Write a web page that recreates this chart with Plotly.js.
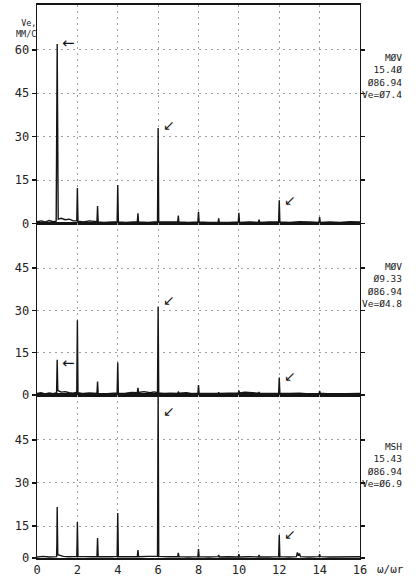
<!DOCTYPE html>
<html>
<head>
<meta charset="utf-8">
<script src="https://cdn.plot.ly/plotly-3.0.1.min.js"></script>
<style>html,body{margin:0;padding:0;background:#fff;}#chart{width:416px;height:582px;}</style>
</head>
<body>
<div id="chart"></div>
<script>
// ---- data ----
const xTickVals = [0, 2, 4, 6, 8, 10, 12, 14, 16];
const xTickText = ['0', '2', '4', '6', '8', '10', '12', '14', '16'];

// Panel 1 (MØV 15.40)
const p1x = [0, 0.2, 0.4, 0.6, 0.8, 0.95,
  1, 1.05, 1.2, 1.4, 1.6, 1.8, 1.97,
  2, 2.03, 2.3, 2.6, 2.97,
  3, 3.03, 3.3, 3.6, 3.97,
  4, 4.03, 4.4, 4.97,
  5, 5.03, 5.5, 5.97,
  6, 6.03, 6.5, 6.97,
  7, 7.03, 7.5, 7.97,
  8, 8.03, 8.5, 8.97,
  9, 9.03, 9.5, 9.97,
  10, 10.03, 10.5, 10.97,
  11, 11.03, 11.5, 11.97,
  12, 12.03, 12.5, 13, 13.5, 13.97,
  14, 14.03, 14.5, 15, 15.5, 16];
const p1y = [0.6, 0.9, 0.5, 1.0, 0.6, 0.8,
  62, 1.5, 1.8, 1.3, 1.5, 0.9, 1.0,
  12.3, 0.8, 0.5, 0.9, 0.6,
  6.0, 0.5, 0.4, 0.6, 0.6,
  13.3, 0.5, 0.4, 0.6,
  3.5, 0.5, 0.4, 0.6,
  33, 0.6, 0.5, 0.5,
  2.7, 0.5, 0.4, 0.5,
  4.0, 0.5, 0.4, 0.4,
  1.8, 0.4, 0.4, 0.5,
  3.7, 0.4, 0.5, 0.4,
  1.3, 0.4, 0.5, 0.5,
  8.0, 0.5, 0.4, 0.6, 0.5, 0.4,
  2.2, 0.4, 0.5, 0.4, 0.6, 0.5];

// Panel 2 (MØV 09.33)
const p2x = [0, 0.2, 0.4, 0.6, 0.8, 0.97,
  1, 1.03, 1.2, 1.4, 1.6, 1.8, 1.97, 1.985,
  2, 2.03, 2.3, 2.6, 2.97,
  3, 3.03, 3.3, 3.6, 3.97,
  4, 4.03, 4.4, 4.7, 4.97,
  5, 5.03, 5.3, 5.6, 5.8, 5.97,
  6, 6.03, 6.3, 6.6, 6.97,
  7, 7.03, 7.4, 7.7, 7.97,
  8, 8.03, 8.5, 8.97,
  9, 9.03, 9.5, 9.97,
  10, 10.03, 10.3, 10.6, 10.97,
  11, 11.03, 11.5, 11.97,
  12, 12.03, 12.5, 13, 13.5, 13.97,
  14, 14.03, 14.5, 15, 15.5, 16];
const p2y = [0.5, 0.8, 0.4, 0.7, 0.5, 0.8,
  12.5, 1.6, 1.0, 1.2, 0.8, 0.6, 1.0, 8.0,
  26.5, 0.8, 0.5, 0.7, 0.5,
  4.8, 0.5, 0.4, 0.6, 0.7,
  11.5, 0.5, 0.6, 0.9, 0.8,
  2.5, 0.9, 1.2, 0.8, 1.1, 0.8,
  31.4, 0.7, 0.5, 0.6, 0.5,
  1.2, 0.6, 0.8, 0.5, 0.6,
  3.5, 0.6, 0.5, 0.5,
  0.9, 0.5, 0.6, 0.6,
  1.6, 0.7, 1.0, 0.8, 0.6,
  1.0, 0.5, 0.5, 0.6,
  6.2, 0.6, 0.5, 0.6, 0.4, 0.5,
  1.4, 0.6, 0.4, 0.5, 0.4, 0.5];

// Panel 3 (MSH 15.43) — its lowest gridline gap is shorter, baseline sits at 3.84
const p3Base = 3.84;
const p3x = [0, 0.3, 0.6, 0.9, 0.97, 0.985,
  1, 1.03, 1.1, 1.3, 1.6, 1.97, 1.985,
  2, 2.03, 2.4, 2.7, 2.97,
  3, 3.03, 3.4, 3.7, 3.97,
  4, 4.03, 4.4, 4.97,
  5, 5.03, 5.5, 5.97,
  6, 6.03, 6.5, 6.97,
  7, 7.03, 7.5, 7.97,
  8, 8.03, 8.5, 8.97,
  9, 9.03, 9.5, 9.97,
  10, 10.03, 10.5, 10.97,
  11, 11.03, 11.5, 11.97,
  12, 12.03, 12.5, 12.85, 12.9, 12.95,
  13, 13.05, 13.5, 13.97,
  14, 14.03, 14.5, 15, 15.5, 16];
const p3y = [4.2, 4.4, 4.2, 4.3, 4.3, 8.5,
  21.6, 5.0, 4.8, 4.4, 4.3, 4.4, 9.0,
  16.4, 4.4, 4.2, 4.3, 4.3,
  10.8, 4.3, 4.2, 4.3, 4.4,
  19.5, 4.3, 4.2, 4.3,
  6.6, 4.3, 4.4, 4.5,
  61, 4.4, 4.3, 4.3,
  5.6, 4.3, 4.2, 4.3,
  7.0, 4.3, 4.2, 4.3,
  4.9, 4.2, 4.3, 4.2,
  5.2, 4.2, 4.3, 4.2,
  4.9, 4.2, 4.2, 4.3,
  11.9, 4.3, 4.2, 4.3, 5.8, 4.6,
  5.4, 4.3, 4.2, 4.3,
  5.2, 4.3, 4.2, 4.3, 4.2, 4.3];

const p1Ticks = [0, 15, 30, 45, 60];
const p2Ticks = [0, 15, 30, 45];
const p3Ticks = [p3Base, 15, 30, 45];
const p3TickText = ['0', '15', '30', '45'];

const panelLabels = [
  ['MØV', '15.4Ø', 'Ø86.94', 'Ve=Ø7.4'],
  ['MØV', 'Ø9.33', 'Ø86.94', 'Ve=Ø4.8'],
  ['MSH', '15.43', 'Ø86.94', 'Ve=Ø6.9']
];

// arrow markers: [panel, x, y, glyph]
const arrows = [
  [1, 1, 62.5, '←'], [1, 6, 34, '↙'], [1, 12, 8.2, '↙'],
  [2, 1, 11.5, '←'], [2, 6, 33.5, '↙'], [2, 12, 6.8, '↙'],
  [3, 6, 55, '↙'], [3, 12, 12.3, '↙']
];

// ---- chart ----
const mono = 'DejaVu Sans Mono, monospace';
const ink = '#151515';
const lineStyle = {color: ink, width: 1.4};

const traces = [
  {x: p1x, y: p1y, xaxis: 'x', yaxis: 'y', type: 'scatter', mode: 'lines', line: lineStyle, hoverinfo: 'skip'},
  {x: p2x, y: p2y, xaxis: 'x2', yaxis: 'y2', type: 'scatter', mode: 'lines', line: lineStyle, hoverinfo: 'skip'},
  {x: p3x, y: p3y, xaxis: 'x3', yaxis: 'y3', type: 'scatter', mode: 'lines', line: lineStyle, hoverinfo: 'skip'}
];

function xAx(anchor, labels) {
  return {
    anchor: anchor, range: [0, 16], tickvals: xTickVals, ticktext: xTickText,
    showticklabels: labels, ticks: '', showgrid: true, gridcolor: '#a0a0a0',
    griddash: '2px,4px', gridwidth: 1, zeroline: false, showline: true,
    linecolor: ink, linewidth: 1.6, mirror: true,
    tickfont: {family: mono, size: 12, color: '#222'}, fixedrange: true
  };
}
function yAx(anchor, domain, range, tv, tt) {
  const a = {
    anchor: anchor, domain: domain, range: range, tickvals: tv,
    ticks: 'outside', ticklen: 4, tickwidth: 1.3, tickcolor: ink, mirror: 'ticks',
    showgrid: true, gridcolor: '#a0a0a0', griddash: '2px,4px', gridwidth: 1,
    zeroline: false, showline: true, linecolor: ink, linewidth: 1.4,
    tickfont: {family: mono, size: 12, color: '#222'}, fixedrange: true
  };
  if (tt) a.ticktext = tt;
  return a;
}

const d1 = [0.6049, 1], d2 = [0.2948, 0.6049], d3 = [0, 0.2948];

const annotations = [];
const labelY = [0.872, 0.4937, 0.169];
panelLabels.forEach((lines, i) => {
  annotations.push({
    xref: 'paper', yref: 'paper', x: 1.136, y: labelY[i], xanchor: 'right', yanchor: 'middle',
    text: lines.join('<br>'), align: 'right', showarrow: false,
    font: {family: mono, size: 9.5, color: '#222'}
  });
});
arrows.forEach(a => {
  const s = a[0] === 1 ? '' : String(a[0]);
  annotations.push({
    xref: 'x' + s, yref: 'y' + s, x: a[1], y: a[2], xanchor: 'left', yanchor: 'middle',
    xshift: 3, text: a[3], showarrow: false,
    font: {family: 'DejaVu Sans', size: a[3] === '←' ? 15 : 14, color: ink}
  });
});
annotations.push({
  xref: 'paper', yref: 'paper', x: 0, y: 0.958, xanchor: 'right', yanchor: 'middle', xshift: 1,
  text: 'Ve,<br>ММ/С', align: 'right', showarrow: false,
  font: {family: mono, size: 8.5, color: '#222'}
});
annotations.push({
  xref: 'paper', yref: 'paper', x: 1.095, y: 0, xanchor: 'center', yanchor: 'top', yshift: -3,
  text: 'ω/ωr', showarrow: false, font: {family: mono, size: 11, color: '#222'}
});

const layout = {
  width: 416, height: 582,
  margin: {l: 37, r: 56, t: 5, b: 24},
  paper_bgcolor: '#fff', plot_bgcolor: '#fff',
  showlegend: false,
  xaxis: xAx('y', false),
  xaxis2: xAx('y2', false),
  xaxis3: xAx('y3', true),
  yaxis: yAx('x', d1, [0, 75.5], p1Ticks),
  yaxis2: yAx('x2', d2, [0, 60.8], p2Ticks),
  yaxis3: yAx('x3', d3, [p3Base, 60.7], p3Ticks, p3TickText),
  annotations: annotations
};

Plotly.newPlot('chart', traces, layout, {displayModeBar: false, staticPlot: true});
</script>
</body>
</html>
